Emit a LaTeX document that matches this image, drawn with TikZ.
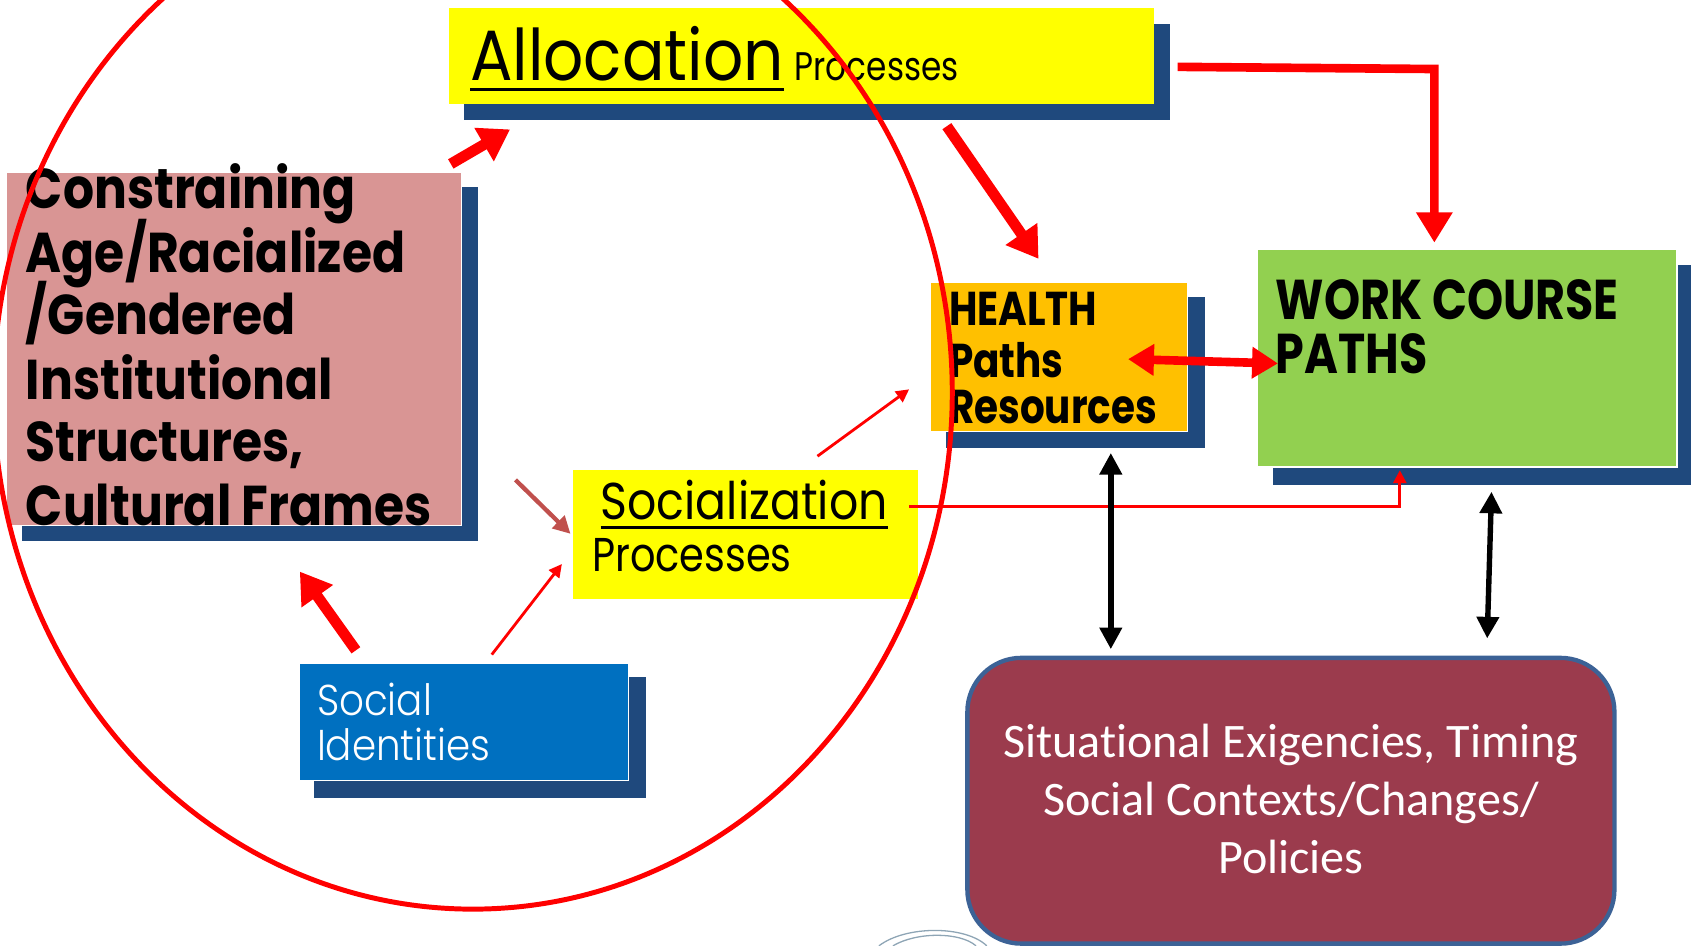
\documentclass[tikz,border=0pt]{standalone}
\usepackage{fontspec}
\usetikzlibrary{arrows.meta,calc}
\newfontfamily\gothic{Poppins}
\newfontfamily\gothicA[FakeStretch=0.885]{Poppins}
\newfontfamily\gothicB[FakeStretch=0.87]{Poppins}
\newfontfamily\gothicC[FakeStretch=0.84]{Poppins}
\newfontfamily\gothicn[FakeStretch=0.82]{Poppins}
\newfontfamily\gothiclight[FakeStretch=0.9]{Poppins Light}
\newfontfamily\calib[Ligatures=NoCommon]{Carlito}
\definecolor{navy}{HTML}{1F497D}
\definecolor{pinkbox}{HTML}{D99594}
\definecolor{orangebox}{HTML}{FFC000}
\definecolor{greenbox}{HTML}{92D050}
\definecolor{bluebox}{HTML}{0070C0}
\definecolor{yellowbox}{HTML}{FFFF00}
\definecolor{maroonbox}{HTML}{9B3B4D}
\definecolor{maroonedge}{HTML}{3C6296}
\definecolor{brownarrow}{HTML}{C0504D}
\definecolor{logogray}{HTML}{8EA5B5}
\tikzset{
  boxshape/.style={anchor=north west, inner sep=0pt, outer sep=0pt},
  shadowbox/.style={fill=navy},
  txt/.style={anchor=base west, inner sep=0pt, outer sep=0pt},
  bigarrow/.style={red, line width=5pt, -{Triangle[length=14pt,width=17pt]}},
  midarrow/.style={red, line width=4pt, -{Triangle[length=14pt,width=16pt]}},
  dblarrow/.style={red, line width=4pt, {Triangle[length=12pt,width=14pt]}-{Triangle[length=12pt,width=14pt]}},
  thinarrow/.style={red, line width=1.3pt, -{Triangle[length=6pt,width=6pt]}},
  blkarrow/.style={black, line width=2.5pt, {Triangle[length=10pt,width=10pt]}-{Triangle[length=10pt,width=10pt]}},
}
\begin{document}
\begin{tikzpicture}[x=0.5pt,y=-0.5pt]
\useasboundingbox (0,0) rectangle (1568,877);

% shadows
\fill[shadowbox] (430,22) rectangle (1085,111);
\fill[shadowbox] (20,173) rectangle (443,502);
\fill[shadowbox] (877,275) rectangle (1117,415);
\fill[shadowbox] (1180,246) rectangle (1568,450);
\fill[shadowbox] (291,628) rectangle (599,740);

% boxes
\node[boxshape, fill=yellowbox, minimum width=327pt, minimum height=44.5pt] (alloc) at (416,7) {};
\node[boxshape, fill=pinkbox, draw=white, line width=0.5pt, minimum width=211pt, minimum height=163.5pt] (constr) at (6,160) {};
\node[boxshape, fill=orangebox, draw=white, line width=0.5pt, minimum width=119pt, minimum height=69pt] (health) at (863,262) {};
\node[boxshape, fill=greenbox, draw=white, line width=0.5pt, minimum width=194.5pt, minimum height=101pt] (work) at (1166,231) {};
\node[boxshape, fill=yellowbox, minimum width=160pt, minimum height=59.5pt] (social) at (531,436) {};
\node[boxshape, fill=bluebox, draw=white, line width=0.5pt, minimum width=152.5pt, minimum height=54.5pt] (ident) at (278,615) {};
\node[boxshape, fill=maroonbox, draw=maroonedge, line width=2pt, rounded corners=25pt, minimum width=300pt, minimum height=132.5pt] (context) at (897,610) {};

% texts
\node[txt, font=\gothicA\fontsize{33}{33}\selectfont] (allocT) at (436,75) {Allocation};
\draw[line width=1.5pt] ($(allocT.base west)+(0,8)$) -- ($(allocT.base east)+(0,8)$);
\node[txt, font=\gothicn\fontsize{18.5}{18.5}\selectfont] (allocP) at (737,75) {Processes};

\begin{scope}[every node/.style={txt, font=\gothicB\bfseries\fontsize{26}{26}\selectfont}]
\node (c1) at (24,193) {Constraining};
\node (c2) at (24,253) {Age/Racialized};
\node (c3) at (24,310) {/Gendered};
\node (c4) at (24,370) {Institutional};
\node (c5) at (24,428) {Structures,};
\node (c6) at (24,487) {Cultural Frames};
\end{scope}

\begin{scope}[every node/.style={txt, font=\gothicn\bfseries\fontsize{22}{22}\selectfont}]
\node (h1) at (880,302) {HEALTH};
\node (h2) at (880,350) {Paths};
\node (h3) at (880,393) {Resources};
\end{scope}

\begin{scope}[every node/.style={txt, font=\gothicn\bfseries\fontsize{26}{26}\selectfont}]
\node (w1) at (1183,296) {WORK COURSE};
\node (w2) at (1183,346) {PATHS};
\end{scope}

\node[txt, font=\gothicA\fontsize{24}{24}\selectfont] (socT) at (557,482) {Socialization};
\draw[line width=1.2pt] ($(socT.base west)+(0,7)$) -- ($(socT.base east)+(0,7)$);
\node[txt, font=\gothicC\fontsize{22}{22}\selectfont] (socP) at (549,530) {Processes};

\node[txt, text=white, font=\gothiclight\fontsize{20}{20}\selectfont] (i1) at (294,663) {Social};
\node[txt, text=white, font=\gothiclight\fontsize{20}{20}\selectfont] (i2) at (294,705) {Identities};

\begin{scope}[every node/.style={anchor=base, inner sep=0pt, text=white, font=\calib\fontsize{22.3}{22.3}\selectfont}]
\node (t1) at (1197,702) {Situational Exigencies, Timing};
\node (t2) at (1197,756) {Social Contexts/Changes/};
\node (t3) at (1197,810) {Policies};
\end{scope}

% connector end points
\coordinate (a1s) at (418,152); \coordinate (a1e) at (473,120);
\coordinate (a2s) at (878,117); \coordinate (a2e) at (963,240);
\coordinate (a3s) at (1092,62); \coordinate (a3c) at (1330,64); \coordinate (a3e) at (1330,225);
\coordinate (a4s) at (1046,333); \coordinate (a4e) at (1185,337);
\coordinate (a5s) at (330,603); \coordinate (a5e) at (278,530);
\coordinate (a6s) at (456,607); \coordinate (a6e) at (521,523);
\coordinate (a7s) at (478,445); \coordinate (a7e) at (529,495);
\coordinate (a8s) at (758,423); \coordinate (a8e) at (843,361);
\coordinate (a9s) at (843,470); \coordinate (a9c) at (1298,470); \coordinate (a9e) at (1298,436);
\coordinate (b1s) at (1030,420); \coordinate (b1e) at (1030,602);
\coordinate (b2s) at (1383,456); \coordinate (b2e) at (1379,592);

\draw[bigarrow] (a1s) -- (a1e);
\draw[bigarrow] (a2s) -- (a2e);
\draw[midarrow] (a3s) -- (a3c) -- (a3e);
\draw[dblarrow] (a4s) -- (a4e);
\draw[bigarrow] (a5s) -- (a5e);
\draw[thinarrow] (a6s) -- (a6e);
\draw[brownarrow, line width=2pt, -{Triangle[length=8pt,width=8pt]}] (a7s) -- (a7e);
\draw[thinarrow] (a8s) -- (a8e);
\draw[thinarrow] (a9s) -- (a9c) -- (a9e);
\draw[blkarrow] (b1s) -- (b1e);
\draw[blkarrow] (b2s) -- (b2e);

% logo fragment
\draw[logogray, line width=0.6pt] (815,877) .. controls (840,858) and (895,858) .. (915,877);
\draw[logogray, line width=0.6pt] (828,877) .. controls (850,864) and (890,864) .. (905,877);

% red ellipse
\draw[red, line width=2.3pt] (438.5,364) ellipse [x radius=444.5, y radius=479];
\end{tikzpicture}
\end{document}
